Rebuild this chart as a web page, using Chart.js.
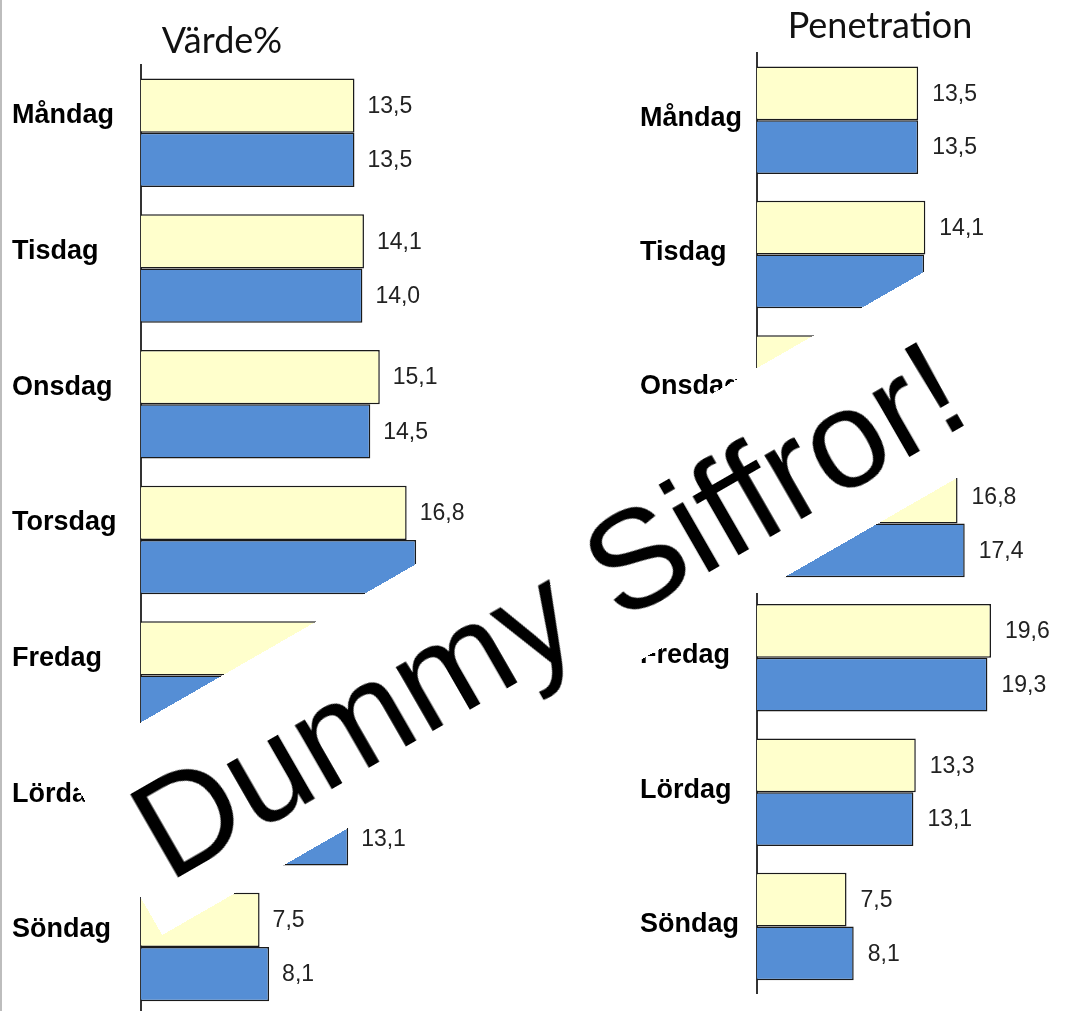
<!DOCTYPE html>
<html lang="sv">
<head>
    <meta charset="UTF-8">
    <title>Värde% och Penetration per veckodag</title>
    <script src="https://cdn.jsdelivr.net/npm/chart.js"></script>
    <style>
        html, body {
            margin: 0;
            padding: 0;
            width: 1065px;
            height: 1011px;
            overflow: hidden;
            background: #fff;
        }
        .edge {
            position: absolute;
            left: 0;
            top: 0;
            width: 2px;
            height: 1011px;
            background: #bdbdbd;
        }
        .box {
            position: absolute;
            top: 0;
        }
        .title {
            position: absolute;
            width: 300px;
            text-align: center;
            font-family: Lato, "Open Sans", sans-serif;
            font-size: 36px;
            line-height: 36px;
            color: #111;
        }
        .banner {
            position: absolute;
            left: 65px;
            top: 766px;
            width: 1250px;
            height: 195px;
            background: #fff;
            transform-origin: 0 0;
            transform: rotate(-29.9deg);
            z-index: 5;
        }
        .banner span {
            position: absolute;
            left: 31px;
            top: 35px;
            font-family: "Liberation Sans", Arial, sans-serif;
            font-size: 140px;
            line-height: 1;
            color: #000;
            white-space: nowrap;
        }
    </style>
</head>
<body>
    <div class="edge"></div>
    <div class="box" style="left:0"><canvas id="vardeChart" width="530" height="1034"></canvas></div>
    <div class="box" style="left:530px"><canvas id="penChart" width="535" height="1013"></canvas></div>
    <div class="title" style="left:72px; top:21px">Värde%</div>
    <div class="title" style="left:730px; top:6px">Penetration</div>
    <div class="banner"><span>Dummy Siffror!</span></div>

    <script>
        const days = ['Måndag', 'Tisdag', 'Onsdag', 'Torsdag', 'Fredag', 'Lördag', 'Söndag'];
        const vardeYellow = [13.5, 14.1, 15.1, 16.8, 19.6, 13.3, 7.5];
        const vardeBlue = [13.5, 14.0, 14.5, 17.4, 19.3, 13.1, 8.1];
        const penYellow = [13.5, 14.1, 15.1, 16.8, 19.6, 13.3, 7.5];
        const penBlue = [13.5, 14.0, 14.5, 17.4, 19.3, 13.1, 8.1];

        const yellow = '#FFFFCC';
        const blue = '#558ED5';

        // writes the value after each bar, swedish decimal comma
        const valueLabels = {
            id: 'valueLabels',
            afterDatasetsDraw(chart, args, opts) {
                const ctx = chart.ctx;
                ctx.save();
                ctx.font = '23px "Liberation Sans", Arial, sans-serif';
                ctx.fillStyle = '#222';
                ctx.textAlign = 'left';
                ctx.textBaseline = 'middle';
                chart.data.datasets.forEach((ds, i) => {
                    chart.getDatasetMeta(i).data.forEach((bar, j) => {
                        const txt = ds.data[j].toFixed(1).replace('.', ',');
                        ctx.fillText(txt, bar.x + opts.gap, bar.y + 1);
                    });
                });
                ctx.restore();
            }
        };

        function makeChart(id, yData, bData, opt) {
            const ctx = document.getElementById(id).getContext('2d');
            return new Chart(ctx, {
                type: 'bar',
                data: {
                    labels: days,
                    datasets: [
                        { data: yData, backgroundColor: yellow },
                        { data: bData, backgroundColor: blue }
                    ]
                },
                options: {
                    indexAxis: 'y',
                    responsive: false,
                    animation: false,
                    devicePixelRatio: 1,
                    layout: { padding: opt.padding },
                    datasets: {
                        bar: {
                            categoryPercentage: 0.8,
                            barPercentage: 1.0,
                            borderColor: '#1a1a1a',
                            borderWidth: 1.5
                        }
                    },
                    scales: {
                        x: { display: false, min: 0, max: opt.max },
                        y: {
                            grid: { display: false, drawTicks: false },
                            border: { display: true, color: '#333', width: 2 },
                            afterFit: s => { s.width = opt.axisWidth; },
                            ticks: {
                                crossAlign: 'far',
                                labelOffset: opt.labelOffset,
                                color: '#000',
                                font: { family: '"Liberation Sans", Arial, sans-serif', size: 27, weight: 'bold' }
                            }
                        }
                    },
                    plugins: {
                        legend: { display: false },
                        tooltip: { enabled: false },
                        valueLabels: { gap: opt.gap }
                    }
                },
                plugins: [valueLabels]
            });
        }

        makeChart('vardeChart', vardeYellow, vardeBlue, {
            padding: { left: 12, top: 65, right: 0, bottom: 0 },
            axisWidth: 129, max: 24.6, labelOffset: -17, gap: 13
        });
        makeChart('penChart', penYellow, penBlue, {
            padding: { left: 110, top: 53, right: 0, bottom: 0 },
            axisWidth: 117, max: 25.8, labelOffset: -2, gap: 14
        });
    </script>
</body>
</html>
